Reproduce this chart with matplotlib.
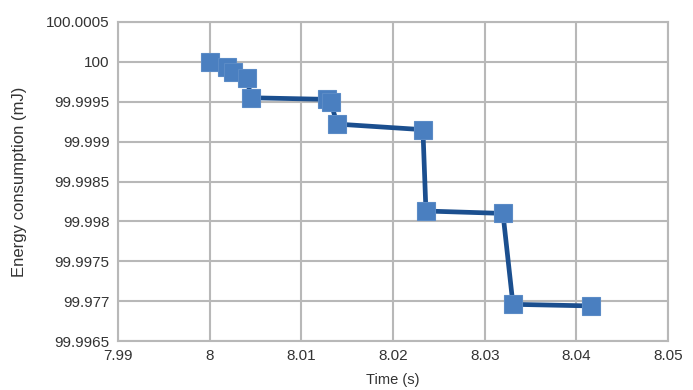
import numpy as np
import matplotlib; matplotlib.use("Agg")
import matplotlib.pyplot as plt
from matplotlib.ticker import FixedLocator, FixedFormatter

# values
time_s = [8.0, 8.00185, 8.00254, 8.00407, 8.0045, 8.0128, 8.0132, 8.0139,
          8.02326, 8.02359, 8.03199, 8.03308, 8.04158]
energy_mj = [100.0, 99.99994, 99.99987, 99.9998, 99.99955, 99.99953, 99.9995, 99.99922,
             99.99915, 99.99813, 99.9981, 99.99696, 99.99694]
xticks = [7.99, 8.0, 8.01, 8.02, 8.03, 8.04, 8.05]
xtick_labels = ["7.99", "8", "8.01", "8.02", "8.03", "8.04", "8.05"]
yticks = [99.9965, 99.997, 99.9975, 99.998, 99.9985, 99.999, 99.9995, 100.0, 100.0005]
ytick_labels = ["99.9965", "99.977", "99.9975", "99.998", "99.9985", "99.999",
                "99.9995", "100", "100.0005"]

plt.rcParams["font.family"] = ["Liberation Sans", "DejaVu Sans"]
GRID = "#b8b8b8"

fig = plt.figure(figsize=(6.93, 3.9), dpi=100)
ax = fig.add_axes([0.1703, 0.1256, 0.7937, 0.818])
ax.plot(time_s, energy_mj, color="#1b4f8f", lw=3.4, zorder=3)
ax.plot(time_s, energy_mj, "s", ms=13.5, mfc="#4a7fc0", mec="#5b8bc6", mew=0.8, zorder=4)

ax.set_xlim(7.99, 8.05)
ax.set_ylim(99.9965, 100.0005)
ax.xaxis.set_major_locator(FixedLocator(xticks))
ax.xaxis.set_major_formatter(FixedFormatter(xtick_labels))
ax.yaxis.set_major_locator(FixedLocator(yticks))
ax.yaxis.set_major_formatter(FixedFormatter(ytick_labels))
ax.tick_params(length=0, labelsize=11, colors="#333333", pad=6)
ax.grid(True, color=GRID, lw=1.5)
ax.set_axisbelow(True)
for sp in ax.spines.values():
    sp.set_color(GRID); sp.set_linewidth(1.5)

ax.set_xlabel("Time (s)", fontsize=10.5, color="#333333", labelpad=7)
ax.set_ylabel("Energy consumption (mJ)", fontsize=12, color="#333333", labelpad=14)

fig.savefig("out.png", dpi=100)
